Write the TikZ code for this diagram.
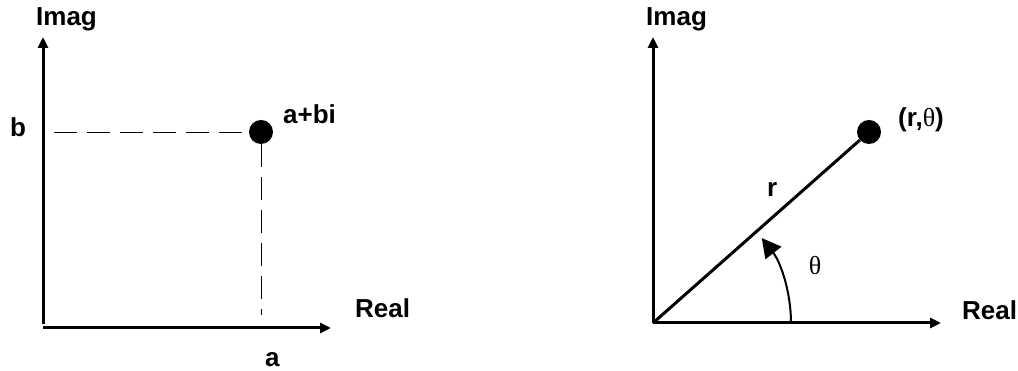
\documentclass[tikz,border=0pt]{standalone}
\usepackage{fontspec}
\setmainfont{Liberation Sans}
\newfontfamily\serifgr{Liberation Serif}
\usetikzlibrary{arrows.meta}
\begin{document}
\begin{tikzpicture}[x=1pt,y=1pt,
  axis/.style={line width=3pt,-{Triangle[length=11pt,width=10pt]}},
  dashline/.style={line width=0.8pt,dash pattern=on 23pt off 10pt},
  dot/.style={circle,fill=black,inner sep=0pt,minimum size=24pt},
  lbl/.style={inner sep=0pt,anchor=base west,font=\fontsize{26}{30}\selectfont\bfseries},
  grk/.style={inner sep=0pt,font=\fontsize{26}{30}\selectfont\serifgr}]
\useasboundingbox (0,0) rectangle (1018,371);
% left diagram
\coordinate (O1) at (43,43);
\coordinate (O1v) at (43,47);
\coordinate (Y1) at (43,334);
\coordinate (X1) at (331,43);
\node[dot] (P1) at (261,239) {};
\coordinate (B1) at (54,239);
\coordinate (A1) at (261,56);
\draw[axis] (O1v) -- (Y1);
\draw[axis] (O1) -- (X1);
\draw[dashline] (B1) -- (P1.west);
\draw[dashline] (P1.south) -- (A1);
\node[lbl] (imag1) at (36,345) {Imag};
\node[lbl] (real1) at (355,53) {Real};
\node[lbl] (b) at (10,234) {b};
\node[lbl] (a) at (265,4) {a};
\node[lbl] (abi) at (283,247) {a+bi};
% right diagram
\coordinate (O2) at (653,48);
\coordinate (Y2) at (653,334);
\coordinate (X2) at (941,48);
\node[dot] (P2) at (869,239) {};
\draw[axis] (O2) -- (Y2);
\draw[axis] (O2) -- (X2);
\draw[line width=3pt] (O2) -- (P2);
\draw[line width=2pt,-{Triangle[length=19pt,width=20pt]}] ([shift={(0:138)}]O2) arc[start angle=0,end angle=38,radius=138];
\node[lbl] (imag2) at (646,345) {Imag};
\node[lbl] (real2) at (962,51) {Real};
\node[lbl] (r) at (767,174) {r};
\node[grk] (theta) at (815,105) {θ};
\node[lbl] (rtheta) at (898,244) {(r,{\fontsize{26}{30}\selectfont\mdseries\serifgr θ})};
\end{tikzpicture}
\end{document}
